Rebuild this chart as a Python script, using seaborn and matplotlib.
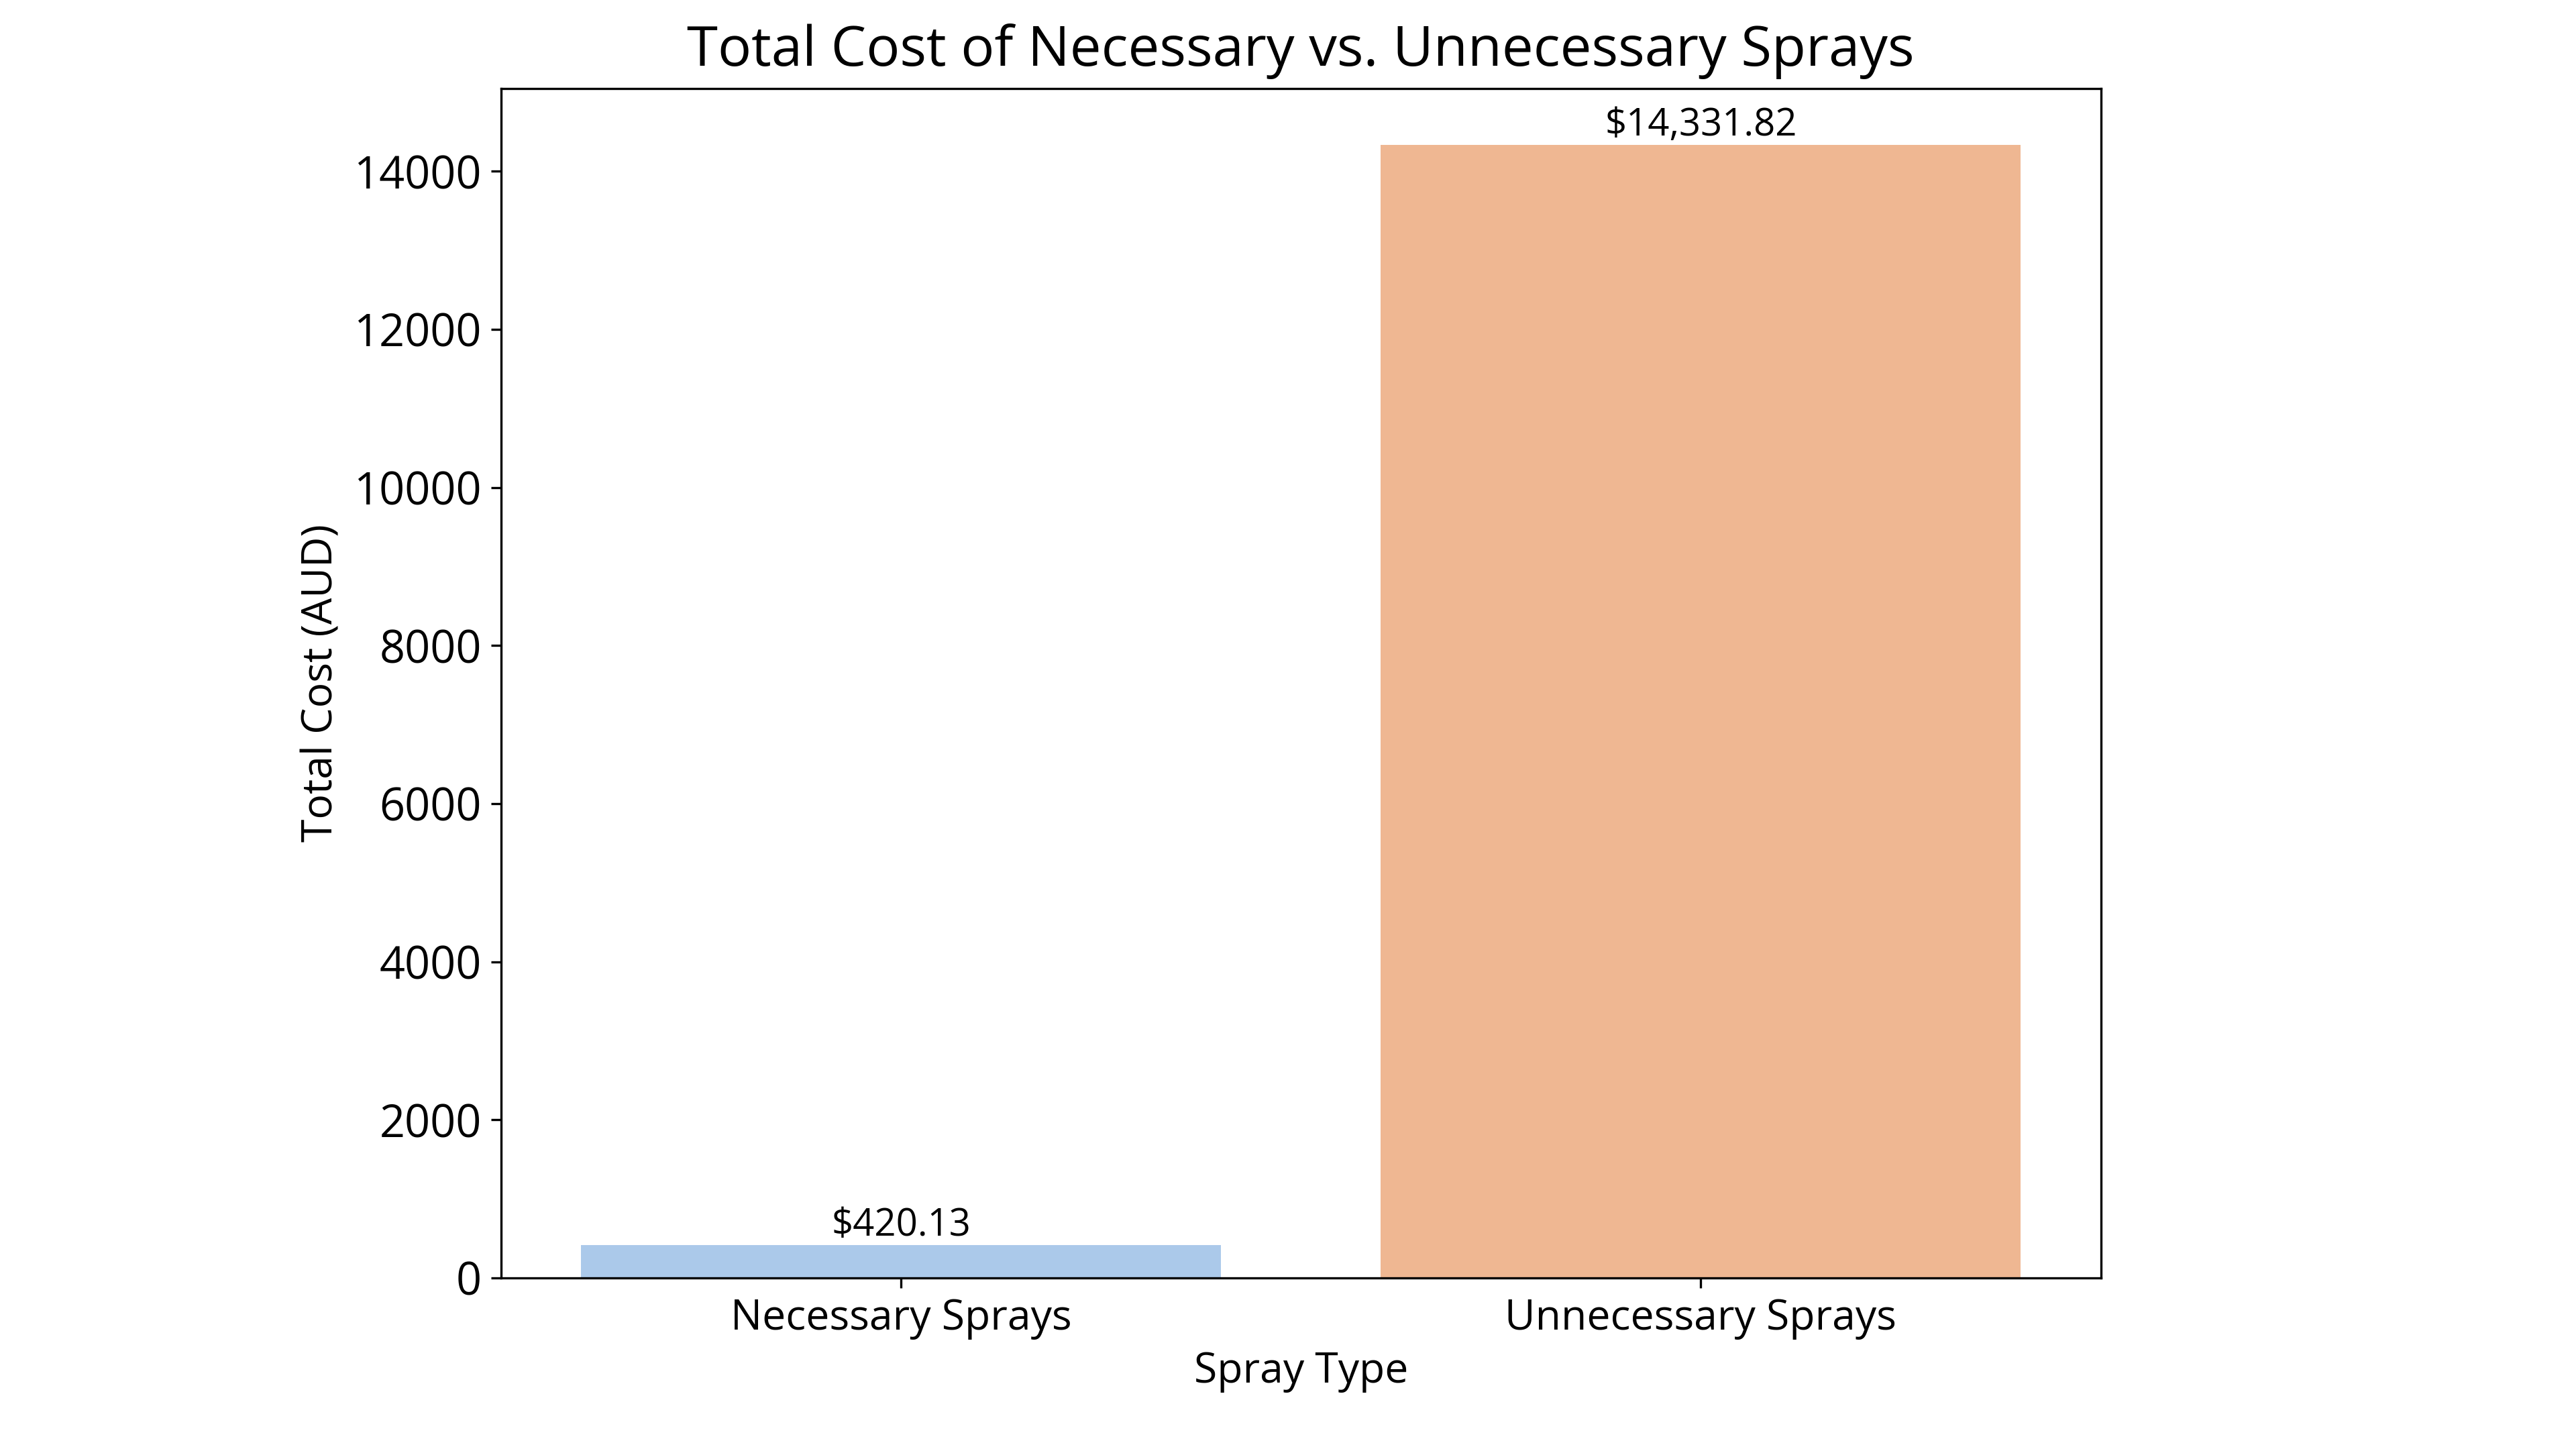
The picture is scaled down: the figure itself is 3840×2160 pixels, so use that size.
import matplotlib
matplotlib.use("Agg")
import matplotlib.pyplot as plt
import seaborn as sns

# data
spray_types = ["Necessary Sprays", "Unnecessary Sprays"]
total_costs = [420.13, 14331.82]

plt.rcParams['font.family'] = ['Open Sans', 'DejaVu Sans']

fig = plt.figure(figsize=(12.8, 7.2), dpi=300)
ax = fig.add_axes([0.1945, 0.118, 0.621, 0.821])

sns.barplot(x=spray_types, y=total_costs, hue=spray_types, palette="pastel",
            legend=False, ax=ax)

for container in ax.containers:
    ax.bar_label(container, fmt="${:,.2f}", fontsize=13.5)

ax.set_title("Total Cost of Necessary vs. Unnecessary Sprays", fontsize=20, pad=8)
ax.set_xlabel("Spray Type", fontsize=15)
ax.set_ylabel("Total Cost (AUD)", fontsize=15)
ax.tick_params(axis="x", labelsize=15)
ax.tick_params(axis="y", labelsize=16)

fig.savefig("out.png", dpi=300)
